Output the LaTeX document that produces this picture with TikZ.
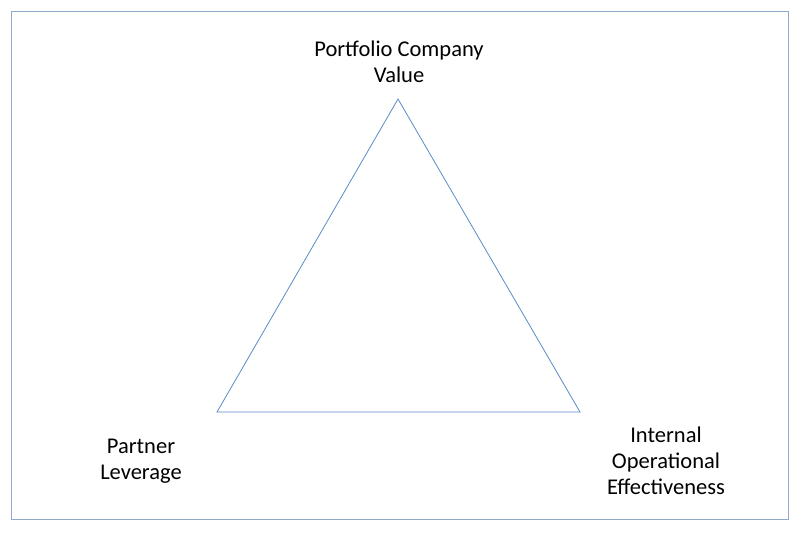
\documentclass[tikz,border=0pt]{standalone}
\usepackage{fontspec}
\setmainfont{Carlito}
\usetikzlibrary{positioning}
\definecolor{edgeblue}{HTML}{5B8BC6}
\definecolor{frameblue}{HTML}{8FAACB}

\begin{document}
\begin{tikzpicture}[x=1pt,y=-1pt,semithick]
\tikzset{corner/.style={align=center,font=\fontsize{22.5pt}{26pt}\selectfont,inner sep=0pt}}
\tikzset{side/.style={draw=edgeblue,line width=0.8pt}}

        \useasboundingbox (0,0) rectangle (800,535);
        \draw[frameblue,line width=0.8pt] (11.5,11.5) rectangle (788.5,519.5);

        \coordinate (top)   at (398,99);
        \coordinate (left)  at (217,412);
        \coordinate (right) at (580,412);

        \node[corner] (value)    at (399,62)  {Portfolio Company\\Value};
        \node[corner] (partner)  at (141,461) {Partner\\Leverage};
        \node[corner] (internal) at (666,461) {Internal\\Operational\\Effectiveness};

        \draw[side] (top) -- (right) -- (left) -- cycle;

\end{tikzpicture}
\end{document}
